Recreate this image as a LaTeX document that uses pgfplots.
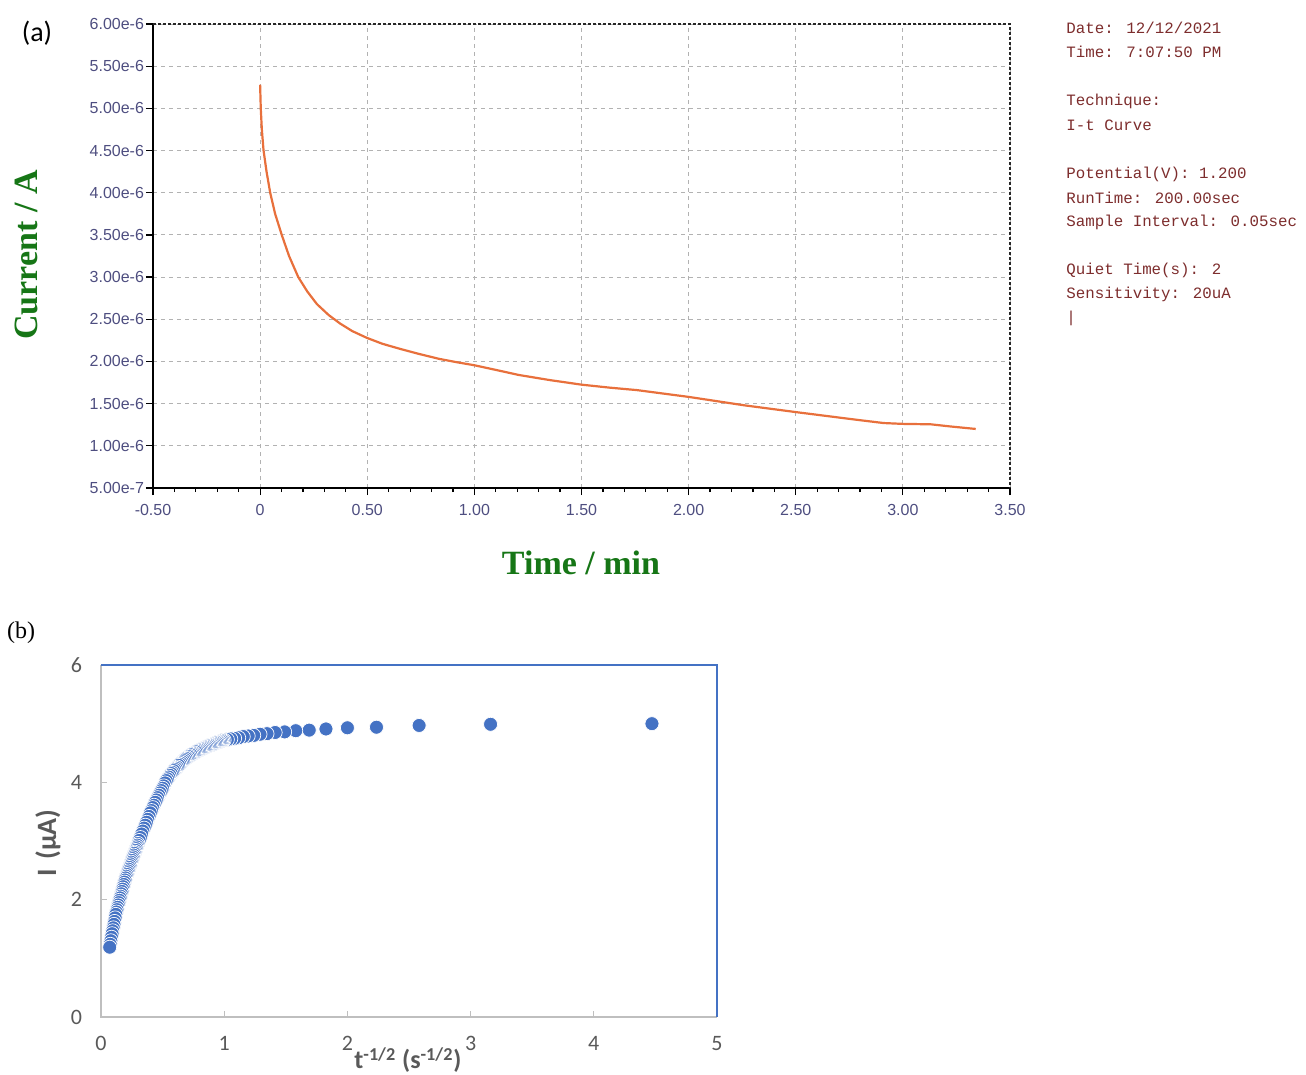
\documentclass[border=0pt]{standalone}
\usepackage{fontspec}
\usepackage{pgfplots}
\pgfplotsset{compat=1.18}
\setmainfont{Liberation Sans}
\newfontfamily\arial{Liberation Sans}
\newfontfamily\tnr{Liberation Serif}
\newfontfamily\calib{Carlito}
\newfontfamily\mono{Liberation Mono}

\definecolor{tickblue}{RGB}{78,78,128}
\definecolor{labgreen}{RGB}{22,118,22}
\definecolor{curve}{RGB}{232,112,60}
\definecolor{infored}{RGB}{125,45,45}
\definecolor{xlblue}{RGB}{68,114,196}
\definecolor{xlgray}{RGB}{89,89,89}
\definecolor{xlaxis}{RGB}{191,191,191}

\begin{document}
\begin{tikzpicture}
\useasboundingbox (0,0) rectangle (653pt,-537.5pt);

% ---------- panel (a): I-t curve ----------
\begin{axis}[
  at={(76.5pt,-244pt)}, anchor=south west,
  width=428.5pt, height=232pt, scale only axis,
  xmin=-0.5, xmax=3.5, ymin=5e-7, ymax=6e-6,
  axis x line*=bottom, axis y line*=left,
  axis line style={line width=1.2pt, black},
  xtick={-0.5,0,0.5,1,1.5,2,2.5,3,3.5},
  xticklabels={-0.50,0,0.50,1.00,1.50,2.00,2.50,3.00,3.50},
  minor x tick num=4,
  ytick={5e-7,1e-6,1.5e-6,2e-6,2.5e-6,3e-6,3.5e-6,4e-6,4.5e-6,5e-6,5.5e-6,6e-6},
  yticklabels={5.00e-7,1.00e-6,1.50e-6,2.00e-6,2.50e-6,3.00e-6,3.50e-6,4.00e-6,4.50e-6,5.00e-6,5.50e-6,6.00e-6},
  scaled y ticks=false,
  xmajorgrids, ymajorgrids,
  major grid style={black!30, dash pattern=on 2pt off 2pt, line width=0.5pt},
  tick align=outside, major tick length=3.5pt, minor tick length=2pt,
  tick style={black, line width=0.6pt},
  ticklabel style={font=\arial\fontsize{8}{9}\selectfont, text=tickblue},
  xticklabel style={yshift=-1pt},
  yticklabel style={xshift=2.5pt},
  clip=false,
]
\addplot[curve, line width=1.1pt] coordinates {
 (0,5.28e-6) (0.003,5.0e-6) (0.008,4.75e-6) (0.016,4.5e-6) (0.03,4.25e-6)
 (0.047,4.0e-6) (0.07,3.75e-6) (0.101,3.5e-6) (0.135,3.25e-6) (0.178,3.0e-6)
 (0.22,2.83e-6) (0.265,2.68e-6) (0.32,2.55e-6) (0.373,2.45e-6) (0.43,2.36e-6)
 (0.498,2.28e-6) (0.57,2.21e-6) (0.652,2.15e-6) (0.74,2.09e-6) (0.837,2.03e-6)
 (0.92,1.99e-6) (1.0,1.955e-6) (1.1,1.9e-6) (1.207,1.84e-6) (1.35,1.78e-6)
 (1.5,1.725e-6) (1.63,1.69e-6) (1.76,1.66e-6) (1.88,1.62e-6) (2.0,1.58e-6)
 (2.13,1.53e-6) (2.26,1.48e-6) (2.38,1.44e-6) (2.5,1.40e-6) (2.64,1.355e-6)
 (2.78,1.31e-6) (2.91,1.27e-6) (3.0,1.26e-6) (3.13,1.255e-6) (3.22,1.23e-6)
 (3.34,1.20e-6)
};
\draw[black!85, dash pattern=on 1.5pt off 1pt, line width=0.8pt]
  (rel axis cs:0,1) -- (rel axis cs:1,1) -- (rel axis cs:1,0);
\end{axis}

\node[font=\calib\fontsize{14}{16}\selectfont] at (18.5pt,-16.5pt) {(a)};
\node[font=\tnr\bfseries\fontsize{17}{19}\selectfont, text=labgreen, rotate=90] at (13pt,-127.5pt) {Current / A};
\node[font=\tnr\bfseries\fontsize{17}{19}\selectfont, text=labgreen] at (290.5pt,-281.5pt) {Time / min};

\begin{scope}[every node/.style={anchor=west, inner sep=0pt, font=\mono\fontsize{7.9}{10}\selectfont, text=infored}]
\node at (533pt,-14pt) {Date: 12/12/2021};
\node at (533pt,-26pt) {Time: 7:07:50 PM};
\node at (533pt,-50.5pt) {Technique:};
\node at (533pt,-62.5pt) {I-t Curve};
\node at (533pt,-87pt) {Potential(V): 1.200};
\node at (533pt,-99pt) {RunTime: 200.00sec};
\node at (533pt,-111pt) {Sample Interval: 0.05sec};
\node at (533pt,-135pt) {Quiet Time(s): 2};
\node at (533pt,-147pt) {Sensitivity: 20uA};
\node at (533pt,-159pt) {|};
\end{scope}

% ---------- panel (b): I vs t^-1/2 ----------
\begin{axis}[
  at={(50.5pt,-508.5pt)}, anchor=south west,
  width=308pt, height=176pt, scale only axis,
  xmin=0, xmax=5, ymin=0, ymax=6,
  xtick={0,1,2,3,4,5}, ytick={0,2,4,6},
  xtick pos=bottom, ytick pos=left,
  axis line style={draw=none},
  tick align=inside, major tick length=3pt,
  tick style={xlaxis, line width=0.6pt},
  /pgf/number format/assume math mode=true,
  ticklabel style={font=\calib\fontsize{11}{13}\selectfont, text=xlgray},
  xticklabel style={yshift=-6pt},
  yticklabel style={xshift=-6pt},
  clip=false,
]
\draw[xlaxis, line width=0.8pt] (rel axis cs:0,1) -- (rel axis cs:0,0) -- (rel axis cs:1,0);
\draw[xlblue, line width=0.6pt] (rel axis cs:0,1) -- (rel axis cs:1,1) -- (rel axis cs:1,0);
\addplot[only marks, mark=*, mark size=3.5pt,
  mark options={fill=xlblue, draw=white, line width=0.35pt}] coordinates {
 (4.472,5.00) (3.162,4.99) (2.582,4.97) (2.236,4.94) (2.000,4.93) (1.826,4.91)
 (1.690,4.89) (1.581,4.88) (1.491,4.86) (1.414,4.85) (1.348,4.83) (1.291,4.82)
 (1.240,4.80) (1.195,4.79) (1.155,4.78) (1.118,4.76) (1.085,4.75) (1.054,4.74)
 (1.026,4.73) (1.000,4.72)
 (0.99,4.715) (0.98,4.71) (0.97,4.70) (0.96,4.69) (0.95,4.685) (0.94,4.68)
 (0.93,4.67) (0.92,4.66) (0.91,4.65) (0.90,4.64) (0.89,4.635) (0.88,4.63)
 (0.87,4.62) (0.86,4.61) (0.85,4.60) (0.84,4.59) (0.83,4.58) (0.82,4.57)
 (0.81,4.56) (0.80,4.55) (0.79,4.54) (0.78,4.53) (0.77,4.52) (0.76,4.50)
 (0.75,4.49) (0.74,4.48) (0.73,4.47) (0.72,4.45) (0.71,4.44) (0.70,4.42)
 (0.69,4.41) (0.68,4.39) (0.67,4.37) (0.66,4.35) (0.65,4.33) (0.64,4.31)
 (0.63,4.29) (0.62,4.26) (0.61,4.24) (0.60,4.22) (0.59,4.20) (0.58,4.17)
 (0.57,4.15) (0.56,4.12) (0.55,4.09) (0.54,4.06) (0.53,4.03) (0.52,3.99)
 (0.51,3.94) (0.50,3.90) (0.49,3.86) (0.48,3.82) (0.47,3.78) (0.46,3.74)
 (0.45,3.70) (0.44,3.66) (0.43,3.61) (0.42,3.57) (0.41,3.52) (0.40,3.48)
 (0.39,3.42) (0.38,3.37) (0.37,3.32) (0.36,3.27) (0.35,3.22) (0.34,3.17)
 (0.33,3.12) (0.32,3.06) (0.31,3.01) (0.30,2.96)
 (0.295,2.93) (0.29,2.90) (0.285,2.87) (0.28,2.84) (0.275,2.81) (0.27,2.79)
 (0.265,2.76) (0.26,2.73) (0.255,2.70) (0.25,2.67) (0.245,2.64) (0.24,2.61)
 (0.235,2.58) (0.23,2.55) (0.225,2.52) (0.22,2.49) (0.215,2.46) (0.21,2.43)
 (0.205,2.40) (0.20,2.37) (0.195,2.335) (0.19,2.30) (0.185,2.26) (0.18,2.22)
 (0.175,2.18) (0.17,2.14) (0.165,2.10) (0.16,2.06) (0.155,2.03) (0.15,1.99)
 (0.145,1.95) (0.14,1.91) (0.135,1.87) (0.13,1.83) (0.125,1.79) (0.12,1.75)
 (0.115,1.69) (0.11,1.63) (0.105,1.58) (0.10,1.52) (0.095,1.47) (0.09,1.42)
 (0.085,1.36) (0.08,1.30) (0.075,1.24) (0.0707,1.19)
};
\end{axis}

\node[font=\tnr\fontsize{12}{14}\selectfont] at (10.5pt,-316.5pt) {(b)};
\node[font=\calib\bfseries\fontsize{14}{16}\selectfont, text=xlgray, rotate=90] at (24pt,-421.5pt) {I\,\,(µA)};
\node[font=\calib\bfseries\fontsize{13}{15}\selectfont, text=xlgray] at (204pt,-530pt) {t\textsuperscript{-1/2} (s\textsuperscript{-1/2})};

\end{tikzpicture}
\end{document}
